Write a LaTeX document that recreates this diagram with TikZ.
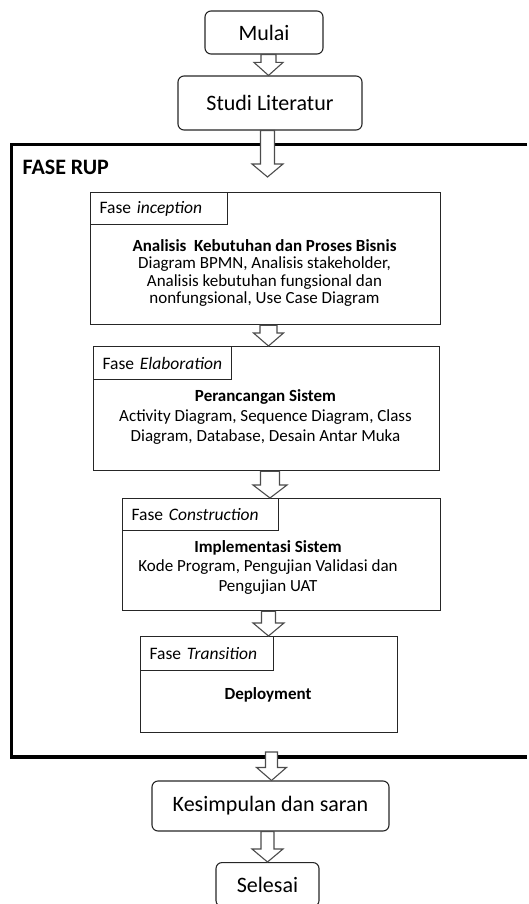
\documentclass[tikz,border=0pt]{standalone}
\usepackage{fontspec}
\setmainfont{Carlito}
\usetikzlibrary{calc}
\tikzset{
  x=1pt, y=-1pt,
  startstop/.style={draw=black!85, line width=1.1pt, rounded corners=6pt,
    font=\fontsize{22}{26}\selectfont, inner sep=0pt},
  phasebox/.style={draw=black!85, line width=1.2pt, anchor=north west, inner sep=0pt},
  phasetag/.style={draw=black!85, line width=1.2pt, anchor=north west,
    inner xsep=9pt, inner ysep=0pt, font=\fontsize{17.5}{19}\selectfont, align=left},
  phasetext/.style={font=\fontsize{17}{17.5}\selectfont, align=center, inner sep=0pt},
  blockarr/.style={draw=black!70, line width=1.1pt, fill=white, line join=miter},
  rupframe/.style={draw=black, line width=3.5pt},
}
% hollow block arrow: #1 axis x, #2 shaft half width, #3 head half width, #4 from, #5 to
\newcommand\hollowarrow[5]{%
  \path[blockarr] let \p1=(#4), \p2=(#5) in
    (#1pt-#2pt,\y1) -- (#1pt-#2pt,\y2+13pt) -- (#1pt-#3pt,\y2+13pt) -- (#1pt,\y2)
    -- (#1pt+#3pt,\y2+13pt) -- (#1pt+#2pt,\y2+13pt) -- (#1pt+#2pt,\y1) -- cycle;
}
\begin{document}
\begin{tikzpicture}
\useasboundingbox (0,0) rectangle (529,904);

% start and literature study
\node[startstop, minimum width=118pt, minimum height=43pt] (mulai) at (264,32.5) {Mulai};
\node[startstop, minimum width=184pt, minimum height=54pt] (studi) at (270,103) {Studi Literatur};

% RUP frame, open on the right side
\draw[rupframe] (527,144.7) -- (11.3,144.7) -- (11.3,757) -- (527,757);
\node[anchor=base west, inner sep=0pt, font=\fontsize{22}{26}\selectfont\bfseries] (ruptitle) at (22.5,175) {FASE RUP};
\coordinate (rupin) at (268,177);
\coordinate (rupout) at (271.5,752);

% inception
\node[phasebox, minimum width=350pt, minimum height=132pt] (inc) at (90,192) {};
\node[phasetag, minimum height=32pt, text width=119pt] (inctag) at (inc.north west) {Fase \textit{inception}};
\node[phasetext] (inctext) at (264.5,273) {\textbf{Analisis\ \ Kebutuhan dan Proses Bisnis}\\
  Diagram BPMN, Analisis stakeholder,\\ Analisis kebutuhan fungsional dan\\ nonfungsional, Use Case Diagram};

% elaboration
\node[phasebox, minimum width=346pt, minimum height=124pt] (elab) at (93,346) {};
\node[phasetag, minimum height=33pt, text width=120pt] (elabtag) at (elab.north west) {Fase \textit{Elaboration}};
\node[phasetext, font=\fontsize{17}{20}\selectfont] (elabtext) at (265.5,417) {\textbf{Perancangan Sistem}\\
  Activity Diagram, Sequence Diagram, Class\\ Diagram, Database, Desain Antar Muka};

% construction
\node[phasebox, minimum width=318pt, minimum height=112pt] (cons) at (122,498) {};
\node[phasetag, minimum height=32pt, text width=138pt] (constag) at (cons.north west) {Fase \textit{Construction}};
\node[phasetext, font=\fontsize{17}{19.5}\selectfont] (constext) at (268,567) {\textbf{Implementasi Sistem}\\
  Kode Program, Pengujian Validasi dan\\ Pengujian UAT};

% transition
\node[phasebox, minimum width=257pt, minimum height=96pt] (trans) at (140,636) {};
\node[phasetag, minimum height=34pt, text width=115pt] (transtag) at (trans.north west) {Fase \textit{Transition}};
\node[phasetext] (transtext) at (268,695) {\textbf{Deployment}};

% conclusion and end
\node[startstop, minimum width=237pt, minimum height=50pt] (kes) at (270.5,806) {Kesimpulan dan saran};
\node[startstop, minimum width=103pt, minimum height=44pt, anchor=north] (selesai) at (267.5,862) {Selesai};

% flow arrows
\hollowarrow{268.5}{7.5}{14.5}{mulai.south}{studi.north}
\hollowarrow{267.5}{7}{15.5}{studi.south}{rupin}
\hollowarrow{268.5}{8.5}{15}{inc.south}{elab.north}
\hollowarrow{270}{9.5}{17}{elab.south}{cons.north}
\hollowarrow{268.5}{7}{15.5}{cons.south}{trans.north}
\hollowarrow{271.5}{6}{15}{rupout}{kes.north}
\hollowarrow{267.5}{6.5}{15.5}{kes.south}{selesai.north}
\end{tikzpicture}
\end{document}
